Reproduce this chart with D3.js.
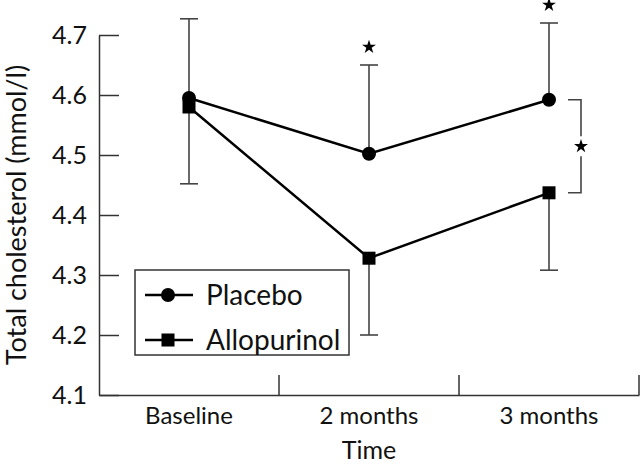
<!DOCTYPE html>
<html>
<head>
<meta charset="utf-8">
<script src="https://cdn.jsdelivr.net/npm/d3@7"></script>
<style>
  body { margin: 0; background: #fff; }
  svg text { font-family: "Lato", "Noto Sans", sans-serif; fill: #111; }
</style>
</head>
<body>
<div id="chart"></div>
<script>
// data
var categories = ["Baseline", "2 months", "3 months"];
var placebo = [4.595, 4.502, 4.592];
var allopurinol = [4.580, 4.328, 4.437];
// error bars: placebo drawn upward, allopurinol drawn downward
var placeboErr = [0.132, 0.148, 0.128];
var allopurinolErr = [0.128, 0.128, 0.129];
var yTicks = [4.1, 4.2, 4.3, 4.4, 4.5, 4.6, 4.7];
// significance stars above placebo bars
var starred = ["2 months", "3 months"];

var width = 640, height = 465;
var margin = {top: 35, right: 1, bottom: 70, left: 99};

var svg = d3.select("#chart").append("svg")
  .attr("width", width)
  .attr("height", height);

var x = d3.scaleBand()
  .domain(categories)
  .range([margin.left, width - margin.right])
  .padding(0);

var y = d3.scaleLinear()
  .domain([4.1, 4.7])
  .range([height - margin.bottom, margin.top]);

var axisColor = "#333";

// y axis, ticks pointing inward
var yAxis = d3.axisLeft(y)
  .tickValues(yTicks)
  .tickFormat(d3.format(".1f"))
  .tickSizeInner(-20)
  .tickSizeOuter(0)
  .tickPadding(12);

var yg = svg.append("g")
  .attr("transform", `translate(${margin.left},0)`)
  .call(yAxis);
yg.selectAll("path, line").attr("stroke", axisColor).attr("stroke-width", 1.5);
yg.selectAll("text").style("font-size", "25px").attr("fill", "#111");

// x axis, labels at band centres, separators at band edges
var xAxis = d3.axisBottom(x).tickSize(0).tickPadding(12);
var xg = svg.append("g")
  .attr("transform", `translate(0,${y(4.1)})`)
  .call(xAxis);
xg.select(".domain").attr("stroke", axisColor).attr("stroke-width", 1.5);
xg.selectAll("text").style("font-size", "24px").attr("fill", "#111");

svg.selectAll(".sep")
  .data(categories)
  .enter()
  .append("line")
  .attr("class", "sep")
  .attr("x1", d => x(d) + x.bandwidth())
  .attr("x2", d => x(d) + x.bandwidth())
  .attr("y1", y(4.1))
  .attr("y2", y(4.1) - 20)
  .attr("stroke", axisColor)
  .attr("stroke-width", 1.5);

// axis titles
svg.append("text")
  .attr("x", x("2 months") + x.bandwidth() / 2)
  .attr("y", 459)
  .attr("text-anchor", "middle")
  .style("font-size", "25px")
  .text("Time");

svg.append("text")
  .attr("transform", `translate(26, ${(y(4.1) + y(4.7)) / 2}) rotate(-90)`)
  .attr("text-anchor", "middle")
  .style("font-size", "27px")
  .text("Total cholesterol (mmol/l)");

var cx = d => x(d) + x.bandwidth() / 2;

// error bars
var errColor = "#444";
var capW = 9;
function errorBars(vals, errs, dir) {
  var g = svg.append("g");
  categories.forEach(function(c, i) {
    var y0 = y(vals[i]), y1 = y(vals[i] + dir * errs[i]);
    g.append("line")
      .attr("x1", cx(c)).attr("x2", cx(c))
      .attr("y1", y0).attr("y2", y1)
      .attr("stroke", errColor).attr("stroke-width", 1.6);
    g.append("line")
      .attr("x1", cx(c) - capW).attr("x2", cx(c) + capW)
      .attr("y1", y1).attr("y2", y1)
      .attr("stroke", errColor).attr("stroke-width", 1.6);
  });
}
errorBars(placebo, placeboErr, 1);
errorBars(allopurinol, allopurinolErr, -1);

// lines
var line = d3.line()
  .x((d, i) => cx(categories[i]))
  .y(d => y(d));

svg.append("path")
  .datum(placebo)
  .attr("d", line)
  .attr("fill", "none")
  .attr("stroke", "#000")
  .attr("stroke-width", 2.5);

svg.append("path")
  .datum(allopurinol)
  .attr("d", line)
  .attr("fill", "none")
  .attr("stroke", "#000")
  .attr("stroke-width", 2.5);

// markers
svg.selectAll(".pl")
  .data(placebo)
  .enter()
  .append("circle")
  .attr("cx", (d, i) => cx(categories[i]))
  .attr("cy", d => y(d))
  .attr("r", 7)
  .attr("fill", "#000");

svg.selectAll(".al")
  .data(allopurinol)
  .enter()
  .append("rect")
  .attr("x", (d, i) => cx(categories[i]) - 6.5)
  .attr("y", d => y(d) - 6.5)
  .attr("width", 13)
  .attr("height", 13)
  .attr("fill", "#000");

// stars
var star = d3.symbol().type(d3.symbolStar).size(60);
starred.forEach(function(c) {
  var i = categories.indexOf(c);
  svg.append("path")
    .attr("d", star)
    .attr("transform", `translate(${cx(c)},${y(placebo[i] + placeboErr[i]) - 18})`)
    .attr("fill", "#000");
});

// bracket between groups at 3 months
var last = categories.length - 1;
var bx = cx(categories[last]);
var bTop = y(placebo[last]), bBot = y(allopurinol[last]);
var bMid = (bTop + bBot) / 2;
svg.append("path")
  .attr("d", `M${bx + 19},${bTop} H${bx + 32} V${bMid - 10} M${bx + 32},${bMid + 10} V${bBot} H${bx + 19}`)
  .attr("fill", "none")
  .attr("stroke", errColor)
  .attr("stroke-width", 1.6);
svg.append("path")
  .attr("d", star)
  .attr("transform", `translate(${bx + 32},${bMid})`)
  .attr("fill", "#000");

// legend
var lg = svg.append("g");
lg.append("rect")
  .attr("x", 135).attr("y", 270)
  .attr("width", 214).attr("height", 85)
  .attr("fill", "#fff")
  .attr("stroke", axisColor)
  .attr("stroke-width", 1.5);

var legendItems = [{name: "Placebo", shape: "circle"}, {name: "Allopurinol", shape: "square"}];
legendItems.forEach(function(item, i) {
  var ly = 295 + i * 45;
  lg.append("line")
    .attr("x1", 145).attr("x2", 193)
    .attr("y1", ly).attr("y2", ly)
    .attr("stroke", "#000").attr("stroke-width", 2.5);
  if (item.shape == "circle") {
    lg.append("circle").attr("cx", 168).attr("cy", ly).attr("r", 7).attr("fill", "#000");
  } else {
    lg.append("rect").attr("x", 161.5).attr("y", ly - 6.5).attr("width", 13).attr("height", 13).attr("fill", "#000");
  }
  lg.append("text")
    .attr("x", 206)
    .attr("y", ly + 10)
    .style("font-size", "28px")
    .text(item.name);
});
</script>
</body>
</html>
